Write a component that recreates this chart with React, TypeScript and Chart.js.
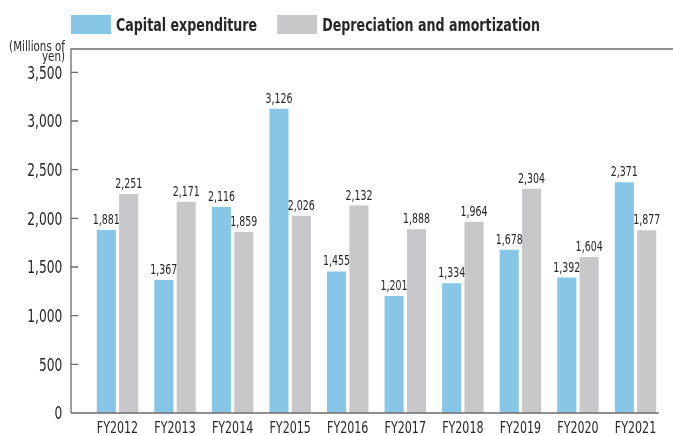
import { useEffect, useRef } from 'react';
import { Chart, registerables } from 'chart.js';

Chart.register(...registerables);

const categories = ['FY2012', 'FY2013', 'FY2014', 'FY2015', 'FY2016', 'FY2017', 'FY2018', 'FY2019', 'FY2020', 'FY2021'];
const capitalExpenditure = [1881, 1367, 2116, 3126, 1455, 1201, 1334, 1678, 1392, 2371];
const depreciationAmortization = [2251, 2171, 1859, 2026, 2132, 1888, 1964, 2304, 1604, 1877];
const seriesLabels = ['Capital expenditure', 'Depreciation and amortization'];
const yTitleLines = ['(Millions of', 'yen)'];
const yTickValues = [0, 500, 1000, 1500, 2000, 2500, 3000, 3500];
const yMin = 0;
const yMax = 3740;

const FONT = "'DejaVu Sans Condensed', 'DejaVu Sans', sans-serif";
const TEXT = '#2a2627';
const AXIS = '#6f6b6a';
const BLUE = '#87c6e6';
const GRAY = '#c8c8ca';
const SQUEEZE = 0.77;

const fmt = (v: number) => v.toLocaleString('en-US');

function drawText(ctx: CanvasRenderingContext2D, text: string, x: number, y: number, sx: number) {
  ctx.save();
  ctx.translate(x, y);
  ctx.scale(sx, 1);
  ctx.fillText(text, 0, 0);
  ctx.restore();
}

const decor = {
  id: 'decor',
  afterDraw(chart: any) {
    const { ctx, chartArea, scales } = chart;
    const y = scales.y;
    const x = scales.x;
    const ax = chartArea.left - 17.7;
    const y0 = y.getPixelForValue(0);
    ctx.save();
    // axis frame
    ctx.strokeStyle = AXIS;
    ctx.lineWidth = 1.3;
    ctx.beginPath();
    ctx.moveTo(ax, y0);
    ctx.lineTo(ax, chartArea.top);
    ctx.lineTo(chart.width, chartArea.top);
    ctx.moveTo(ax, y0);
    ctx.lineTo(chartArea.right - 5.5, y0);
    y.ticks.forEach((t: any) => {
      if (t.value > 0) {
        const py = y.getPixelForValue(t.value);
        ctx.moveTo(ax, py);
        ctx.lineTo(ax + 7, py);
      }
    });
    ctx.stroke();

    ctx.fillStyle = TEXT;
    ctx.textBaseline = 'alphabetic';

    // y tick labels
    ctx.font = `17px ${FONT}`;
    ctx.textAlign = 'right';
    y.ticks.forEach((t: any) => {
      const py = y.getPixelForValue(t.value);
      drawText(ctx, fmt(t.value), ax - 8.7, py + 6.2, 0.8);
    });

    // x tick labels
    ctx.font = `16px ${FONT}`;
    ctx.textAlign = 'center';
    x.ticks.forEach((t: any, i: number) => {
      const px = x.getPixelForTick(i);
      drawText(ctx, String(x.getLabelForValue(t.value)), px, 433, SQUEEZE);
    });

    // y title
    ctx.font = `14px ${FONT}`;
    ctx.textAlign = 'right';
    drawText(ctx, yTitleLines[0], ax - 6, 50.5, 0.82);
    drawText(ctx, yTitleLines[1], ax - 6, 61, 0.82);

    // legend
    let lx = ax;
    chart.data.datasets.forEach((ds: any) => {
      ctx.fillStyle = ds.backgroundColor;
      ctx.fillRect(lx, 15, 40, 19);
      ctx.fillStyle = TEXT;
      ctx.font = `bold 18.5px ${FONT}`;
      ctx.textAlign = 'left';
      drawText(ctx, ds.label, lx + 45, 30.5, 0.76);
      lx += 45 + ctx.measureText(ds.label).width * 0.76 + 20;
    });

    // data labels
    ctx.font = `14px ${FONT}`;
    ctx.textAlign = 'center';
    ctx.fillStyle = TEXT;
    chart.data.datasets.forEach((ds: any, di: number) => {
      const meta = chart.getDatasetMeta(di);
      meta.data.forEach((el: any, i: number) => {
        drawText(ctx, fmt(ds.data[i]), el.x, el.y - 6, 0.75);
      });
    });
    ctx.restore();
  },
};

export default function App() {
  const ref = useRef<HTMLCanvasElement | null>(null);
  useEffect(() => {
    if (!ref.current) return;
    const chart = new Chart(ref.current, {
      type: 'bar',
      data: {
        labels: categories,
        datasets: [
          {
            label: seriesLabels[0],
            data: capitalExpenditure,
            backgroundColor: BLUE,
            barPercentage: 0.853,
            categoryPercentage: 0.777,
          },
          {
            label: seriesLabels[1],
            data: depreciationAmortization,
            backgroundColor: GRAY,
            barPercentage: 0.853,
            categoryPercentage: 0.777,
          },
        ],
      },
      options: {
        animation: false,
        responsive: true,
        maintainAspectRatio: false,
        layout: { padding: { top: 49, left: 0, right: 8.7, bottom: 0 } },
        plugins: { legend: { display: false }, tooltip: { enabled: false } },
        scales: {
          x: {
            grid: { display: false, drawTicks: false },
            border: { display: false },
            ticks: { display: false, autoSkip: false },
            afterFit: (s: any) => {
              s.height = 22;
            },
          },
          y: {
            min: yMin,
            max: yMax,
            grid: { display: false, drawTicks: false },
            border: { display: false },
            ticks: { display: false },
            afterBuildTicks: (s: any) => {
              s.ticks = yTickValues.map((v) => ({ value: v }));
            },
            afterFit: (s: any) => {
              s.width = 88.7;
            },
          },
        },
      },
      plugins: [decor],
    });
    return () => chart.destroy();
  }, []);
  return (
    <div style={{ position: 'absolute', left: 0, top: 0, width: 673, height: 435 }}>
      <canvas ref={ref} />
    </div>
  );
}
